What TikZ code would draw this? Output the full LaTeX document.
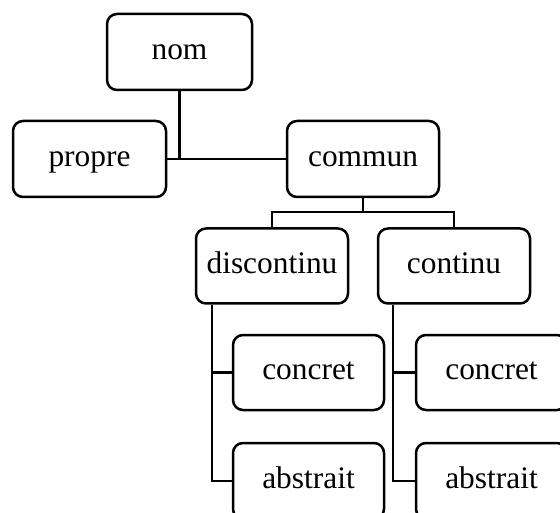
\documentclass[tikz,border=0pt]{standalone}
\usepackage{fontspec}
\setmainfont{Liberation Serif}
\begin{document}
\begin{tikzpicture}[x=1pt,y=-1pt,
  box/.style={draw=black, line width=2.5pt, rounded corners=10pt, fill=white,
    minimum width=152pt, minimum height=76pt, inner sep=0pt,
    text height=14.4pt, text depth=0pt,
    font=\fontsize{31.4}{36}\selectfont},
  link/.style={draw=black, line width=2.5pt}]
\clip (0,0) rectangle (560,513);
\node[box, minimum width=145pt] (nom) at (179.5,52) {nom};
\node[box, minimum width=153pt] (propre) at (89.5,159) {propre};
\node[box] (commun) at (363,159) {commun};
\node[box, minimum height=75pt] (discontinu) at (272,266) {discontinu};
\node[box, minimum height=75pt] (continu) at (454,266) {continu};
\node[box, minimum width=151pt, minimum height=75pt] (concretL) at (308.5,372.5) {concret};
\node[box, minimum width=151pt] (abstraitL) at (308.5,481) {abstrait};
\node[box, minimum width=151pt, minimum height=75pt] (concretR) at (491.5,372.5) {concret};
\node[box, minimum width=151pt] (abstraitR) at (491.5,481) {abstrait};
\coordinate (j) at (363,212);
\coordinate (dl) at ([xshift=-60pt]discontinu.south);
\coordinate (cl) at ([xshift=-61pt]continu.south);
\draw[link] (nom.south) -- (nom.south |- propre.east);
\draw[link] (propre.east) -- (commun.west);
\draw[link] (commun.south) -- (j);
\draw[link] (discontinu.north) |- (j) -| (continu.north);
\draw[link] (dl) |- (abstraitL.west);
\draw[link] (dl |- concretL.west) -- (concretL.west);
\draw[link] (cl) |- (abstraitR.west);
\draw[link] (cl |- concretR.west) -- (concretR.west);
\end{tikzpicture}
\end{document}
